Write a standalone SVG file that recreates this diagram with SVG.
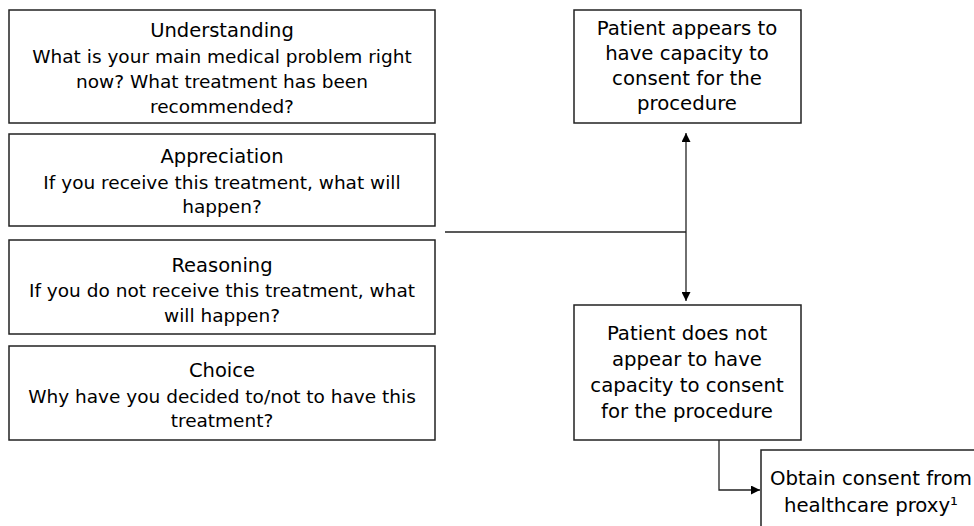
<svg xmlns="http://www.w3.org/2000/svg" width="974" height="526" viewBox="0 0 974 526">
<defs>
<style>
.box{fill:#fff;stroke:#222;stroke-width:1.5}
.t{font-family:"DejaVu Sans",Verdana,sans-serif;font-size:18.5px;fill:#000;text-anchor:middle}
.h{font-size:19.5px}
.r{font-size:19.7px}
.c{fill:none;stroke:#222;stroke-width:1.3}
</style>
<marker id="ah" viewBox="0 0 10 10" refX="10" refY="5" markerWidth="9" markerHeight="9" markerUnits="userSpaceOnUse" orient="auto">
<path d="M0,0 L10,5 L0,10 Z" fill="#000"/>
</marker>
</defs>
<rect width="974" height="526" fill="#fff"/>
<g id="understanding">
<rect class="box" x="9" y="10" width="426" height="113"/>
<text class="t h" x="222" y="37">Understanding</text>
<text class="t" x="222" y="63">What is your main medical problem right</text>
<text class="t" x="222" y="88">now? What treatment has been</text>
<text class="t" x="222" y="113">recommended?</text>
</g>
<g id="appreciation">
<rect class="box" x="9" y="134" width="426" height="92"/>
<text class="t h" x="222" y="163">Appreciation</text>
<text class="t" x="222" y="189">If you receive this treatment, what will</text>
<text class="t" x="222" y="213">happen?</text>
</g>
<g id="reasoning">
<rect class="box" x="9" y="240" width="426" height="94"/>
<text class="t h" x="222" y="272">Reasoning</text>
<text class="t" x="222" y="297">If you do not receive this treatment, what</text>
<text class="t" x="222" y="322">will happen?</text>
</g>
<g id="choice">
<rect class="box" x="9" y="346" width="426" height="94"/>
<text class="t h" x="222" y="377">Choice</text>
<text class="t" x="222" y="403">Why have you decided to/not to have this</text>
<text class="t" x="222" y="427">treatment?</text>
</g>
<g id="capacity">
<rect class="box" x="574" y="10" width="227" height="113"/>
<text class="t r" x="687" y="35">Patient appears to</text>
<text class="t r" x="687" y="60">have capacity to</text>
<text class="t r" x="687" y="85">consent for the</text>
<text class="t r" x="687" y="110">procedure</text>
</g>
<g id="no-capacity">
<rect class="box" x="574" y="305" width="227" height="135"/>
<text class="t r" x="687" y="340">Patient does not</text>
<text class="t r" x="687" y="366">appear to have</text>
<text class="t r" x="687" y="392">capacity to consent</text>
<text class="t r" x="687" y="418">for the procedure</text>
</g>
<g id="proxy">
<rect class="box" x="761" y="450" width="225" height="90"/>
<text class="t r" x="871" y="485">Obtain consent from</text>
<text class="t r" x="871" y="512">healthcare proxy¹</text>
</g>
<g id="connectors">
<path class="c" d="M445,232 H686"/>
<path class="c" d="M686,232 V133" marker-end="url(#ah)"/>
<path class="c" d="M686,232 V301" marker-end="url(#ah)"/>
<path class="c" d="M719,440 V490 H760" marker-end="url(#ah)"/>
</g>
</svg>
